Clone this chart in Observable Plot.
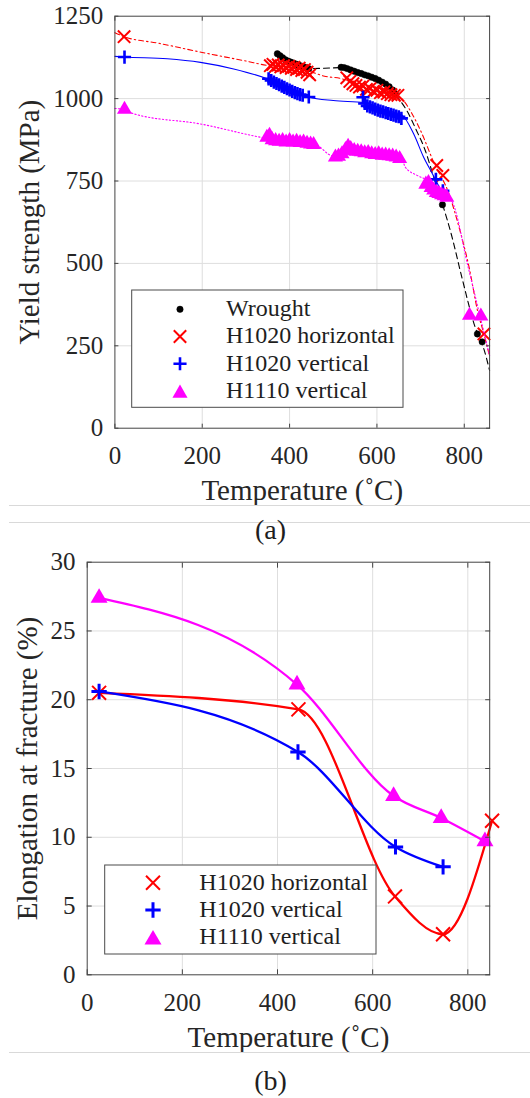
<!DOCTYPE html>
<html><head><meta charset="utf-8">
<script src="https://cdn.jsdelivr.net/npm/d3@7"></script>
<script src="https://cdn.jsdelivr.net/npm/@observablehq/plot@0.6"></script>
<style>
body{margin:0;background:#fff;}
#wrap{position:relative;width:530px;height:1098px;overflow:hidden;}
#wrap svg{position:absolute;left:0;}
</style></head><body><div id="wrap"></div>
<script>
// ===== Panel (a): yield strength (MPa) vs temperature (°C) =====
const seriesA = ["Wrought", "H1020 horizontal", "H1020 vertical", "H1110 vertical"];
const wroughtT = [372,378,384,390,396,402,408,414,420,426,432,438,444, 518,525,532,540,548,556,564,572,580,588,596,604,612,620,628,636,642, 750,830,841];
const wroughtV = [1136,1130,1124,1118,1114,1111,1108,1105,1102,1099,1096,1094,1091, 1095,1094,1091,1087,1083,1079,1076,1072,1069,1065,1061,1056,1050,1044,1036,1026,1015, 678,286,262];
const horzT = [21, 356,362,368,374,380,386,392,398,404,410,416,422,428,434,440,446, 531,538,545,552,560,568,576,584,592,600,608,616,624,632,640,648, 737,751,845];
const horzV = [1188, 1100,1104,1098,1102,1096,1100,1094,1098,1092,1095,1088,1092,1085,1088,1080,1072, 1063,1052,1045,1040,1035,1038,1028,1030,1022,1025,1018,1020,1015,1012,1010,1010, 797,767,286];
const vertT = [22, 352,358,364,370,376,382,388,394,400,406,412,418,424,430,444, 568,572,578,584,590,596,602,608,614,620,626,632,638,644,650,656, 735,751];
const vertV = [1126, 1060,1055,1050,1046,1042,1038,1034,1030,1026,1022,1018,1015,1012,1010,1005, 1004,985,978,975,972,968,965,962,960,957,955,952,950,947,945,940, 755,720];
const h1110T = [22, 348,354,360,368,376,384,392,400,408,416,424,432,440,448,455, 505,512,520,528,534,540,548,556,564,572,580,588,596,604,612,620,628,636,644,652, 712,718,724,730,736,742,748,754,760, 812,838];
const h1110V = [967, 882,888,875,872,870,872,868,872,868,870,866,868,864,862,860, 822,825,832,845,855,848,842,840,838,835,836,832,830,832,828,828,826,825,822,818, 740,745,730,722,715,712,708,705,700, 342,340];
// fitted curves
const wroughtFitT = [372,400,440,480,520,560,600,630,650,670,690,710,730,750,770,795,825,845,858];
const wroughtFitV = [1136,1112,1091,1092,1094,1075,1055,1032,1000,960,905,845,762,680,590,455,306,240,175];
const horzFitT = [0,21,100,200,300,352,400,440,480,520,560,600,640,660,680,700,730,765,790,810,832,845,858];
const horzFitV = [1200,1188,1168,1140,1114,1100,1095,1085,1068,1060,1038,1022,1010,995,955,903,807,711,600,495,347,286,218];
const vertFitT = [0,22,120,196,272,349,400,444,500,570,620,658,684,707,727,755];
const vertFitV = [1128,1126,1121,1110,1090,1060,1030,1005,994,988,965,949,893,822,772,700];
const h1110FitT = [0,22,43,196,333,400,460,498,580,655,665,692,715,740,771,809,833,858];
const h1110FitV = [970,967,954,923,883,868,860,827,830,822,792,767,752,720,690,488,357,220];
const xTicksA = [0,200,400,600,800];
const yTicksA = [0,250,500,750,1000,1250];

// ===== Panel (b): elongation at fracture (%) =====
const seriesB = ["H1020 horizontal", "H1020 vertical", "H1110 vertical"];
const elHorzT = [25,444,647,748,851];
const elHorzV = [20.5,19.3,5.7,2.95,11.2];
const elVertT = [25,443,648,748];
const elVertV = [20.6,16.2,9.3,7.85];
const el1110T = [25,441,644,744,836];
const el1110V = [27.4,21.1,13.0,11.4,9.7];
const xTicksB = [0,200,400,600,800];
const yTicksB = [0,5,10,15,20,25,30];

const zip = (T, V) => T.map((t, i) => ({t, v: V[i]}));
const FONT = '"Liberation Serif", "Times New Roman", serif';
const INK = "#262626";
const GRID = "#dedede";
const d3Sym = {circle: d3.symbolCircle, times: d3.symbolTimes, plus: d3.symbolPlus, triangle: d3.symbolTriangle};
const fmt = (d) => String(d);

function frameAxes(xt, yt, tl) {
  return [
    Plot.axisX(xt, {anchor: "bottom", tickSize: 0, tickPadding: 18, tickFormat: fmt, fontSize: 25, fontFamily: FONT, fill: INK, label: null}),
    Plot.axisY(yt, {anchor: "left", tickSize: 0, tickPadding: 11.7, tickFormat: fmt, fontSize: 25, fontFamily: FONT, fill: INK, label: null}),
    Plot.axisX(xt, {anchor: "bottom", tickSize: -tl, tickFormat: () => "", stroke: "#444", label: null}),
    Plot.axisX(xt, {anchor: "top", tickSize: -tl, tickFormat: () => "", stroke: "#444", label: null}),
    Plot.axisY(yt, {anchor: "left", tickSize: -tl, tickFormat: () => "", stroke: "#444", label: null}),
    Plot.axisY(yt, {anchor: "right", tickSize: -tl, tickFormat: () => "", stroke: "#444", label: null})
  ];
}

function legend(svg, items, box) {
  const g = d3.select(svg).append("g");
  g.append("rect").attr("x", box.x).attr("y", box.y).attr("width", box.w).attr("height", box.h)
    .attr("fill", "white").attr("stroke", "#4a4a4a").attr("stroke-width", 1);
  items.forEach((it, i) => {
    const cy = box.row0 + i * box.step;
    const dy = it.symbol === "triangle" ? 2.4 : 0;
    g.append("path")
      .attr("transform", `translate(${box.mx},${cy + dy})`)
      .attr("d", d3.symbol(d3Sym[it.symbol], Math.PI * it.r * it.r)())
      .attr("fill", it.fill).attr("stroke", it.stroke).attr("stroke-width", it.sw);
    g.append("text").attr("x", box.tx).attr("y", cy + 6.9)
      .style("font-size", "24px").style("font-family", FONT).style("text-anchor", "start")
      .attr("fill", "#1e1e1e").text(it.name);
  });
}

const wrap = document.getElementById("wrap");

// ---- chart (a) ----
const styleA = [
  {name: seriesA[0], symbol: "circle", r: 3.2, fill: "black", stroke: "black", sw: 0.5, line: "black", dash: "6,4"},
  {name: seriesA[1], symbol: "times", r: 5.7, fill: "none", stroke: "#ff0000", sw: 2, line: "#ff0000", dash: "5,3,1.5,3"},
  {name: seriesA[2], symbol: "plus", r: 4.3, fill: "none", stroke: "#0000ff", sw: 2.6, line: "#0000ff", dash: null},
  {name: seriesA[3], symbol: "triangle", r: 5.6, fill: "#ff00ff", stroke: "none", sw: 0, line: "#ff00ff", dash: "1.3,2.2"}
];
const ptsA = [zip(wroughtT, wroughtV), zip(horzT, horzV), zip(vertT, vertV), zip(h1110T, h1110V)];
const fitA = [zip(wroughtFitT, wroughtFitV), zip(horzFitT, horzFitV), zip(vertFitT, vertFitV), zip(h1110FitT, h1110FitV)];

const marksA = [
  Plot.gridX(xTicksA.slice(1), {stroke: GRID, strokeOpacity: 1}),
  Plot.gridY(yTicksA.slice(1, -1), {stroke: GRID, strokeOpacity: 1})
];
styleA.forEach((s, i) => {
  marksA.push(Plot.line(fitA[i], {x: "t", y: "v", stroke: s.line, strokeWidth: 1.1, strokeDasharray: s.dash, curve: "monotone-x"}));
  marksA.push(Plot.dot(ptsA[i], {x: "t", y: "v", symbol: s.symbol, r: s.r, fill: s.fill, stroke: s.stroke, strokeWidth: s.sw}));
});
marksA.push(Plot.frame({stroke: "#444", strokeWidth: 1}));
marksA.push(...frameAxes(xTicksA, yTicksA, 4));
marksA.push(Plot.text(["Temperature (˚C)"], {frameAnchor: "bottom", dy: 63, fontSize: 29, fontFamily: FONT, textAnchor: "middle", lineAnchor: "middle", fill: INK}));
marksA.push(Plot.text(["Yield strength (MPa)"], {frameAnchor: "left", dx: -85.4, rotate: -90, fontSize: 29, fontFamily: FONT, textAnchor: "middle", lineAnchor: "middle", fill: INK}));

const plotA = Plot.plot({
  width: 530, height: 505,
  marginLeft: 114.4, marginRight: 40.9, marginTop: 15.7, marginBottom: 77.3,
  x: {domain: [0, 858], label: null},
  y: {domain: [0, 1250], label: null},
  style: {fontFamily: FONT, fontSize: "25px", color: INK, background: "transparent", overflow: "visible"},
  marks: marksA
});
plotA.style.top = "0px";
legend(plotA, styleA, {x: 131.7, y: 290, w: 271.3, h: 117.3, row0: 309.3, step: 27.2, mx: 180, tx: 226});
wrap.appendChild(plotA);

// ---- chart (b) ----
const styleB = [
  {name: seriesB[0], symbol: "times", r: 6.4, fill: "none", stroke: "#ff0000", sw: 2},
  {name: seriesB[1], symbol: "plus", r: 5.0, fill: "none", stroke: "#0000ff", sw: 3},
  {name: seriesB[2], symbol: "triangle", r: 6.3, fill: "#ff00ff", stroke: "none", sw: 0}
];
const ptsB = [zip(elHorzT, elHorzV), zip(elVertT, elVertV), zip(el1110T, el1110V)];
const marksB = [
  Plot.gridX(xTicksB.slice(1), {stroke: GRID, strokeOpacity: 1}),
  Plot.gridY(yTicksB.slice(1, -1), {stroke: GRID, strokeOpacity: 1})
];
styleB.forEach((s, i) => {
  marksB.push(Plot.line(ptsB[i], {x: "t", y: "v", stroke: s.stroke === "none" ? s.fill : s.stroke, strokeWidth: 2.3, curve: "monotone-x"}));
  marksB.push(Plot.dot(ptsB[i], {x: "t", y: "v", symbol: s.symbol, r: s.r, fill: s.fill, stroke: s.stroke, strokeWidth: s.sw}));
});
marksB.push(Plot.frame({stroke: "#444", strokeWidth: 1}));
marksB.push(...frameAxes(xTicksB, yTicksB, 5));
marksB.push(Plot.text(["Temperature (˚C)"], {frameAnchor: "bottom", dy: 63, fontSize: 29, fontFamily: FONT, textAnchor: "middle", lineAnchor: "middle", fill: INK}));
marksB.push(Plot.text(["Elongation at fracture (%)"], {frameAnchor: "left", dx: -59.7, rotate: -90, fontSize: 29, fontFamily: FONT, textAnchor: "middle", lineAnchor: "middle", fill: INK}));

const plotB = Plot.plot({
  width: 530, height: 530,
  marginLeft: 86.7, marginRight: 40.8, marginTop: 39.7, marginBottom: 77.7,
  x: {domain: [0, 846], label: null},
  y: {domain: [0, 30], label: null},
  style: {fontFamily: FONT, fontSize: "25px", color: INK, background: "transparent", overflow: "visible"},
  marks: marksB
});
plotB.style.top = "522px";
legend(plotB, styleB, {x: 104.7, y: 343, w: 271.3, h: 89, row0: 360.7, step: 27.3, mx: 153, tx: 199.3});
wrap.appendChild(plotB);

// ---- separators and captions ----
const ov = d3.create("svg").attr("width", 530).attr("height", 1098).style("top", "0px").style("pointer-events", "none");
[505.5, 522.5, 1052.5].forEach(y => ov.append("line").attr("x1", 9).attr("x2", 530).attr("y1", y).attr("y2", y).attr("stroke", "#d9d9d9").attr("stroke-width", 1));
[["(a)", 539], ["(b)", 1090]].forEach(([t, y]) => ov.append("text").attr("x", 270.5).attr("y", y).attr("text-anchor", "middle")
  .style("font-family", FONT).style("font-size", "28px").attr("fill", "#1e1e1e").text(t));
wrap.appendChild(ov.node());
</script>
</body></html>
